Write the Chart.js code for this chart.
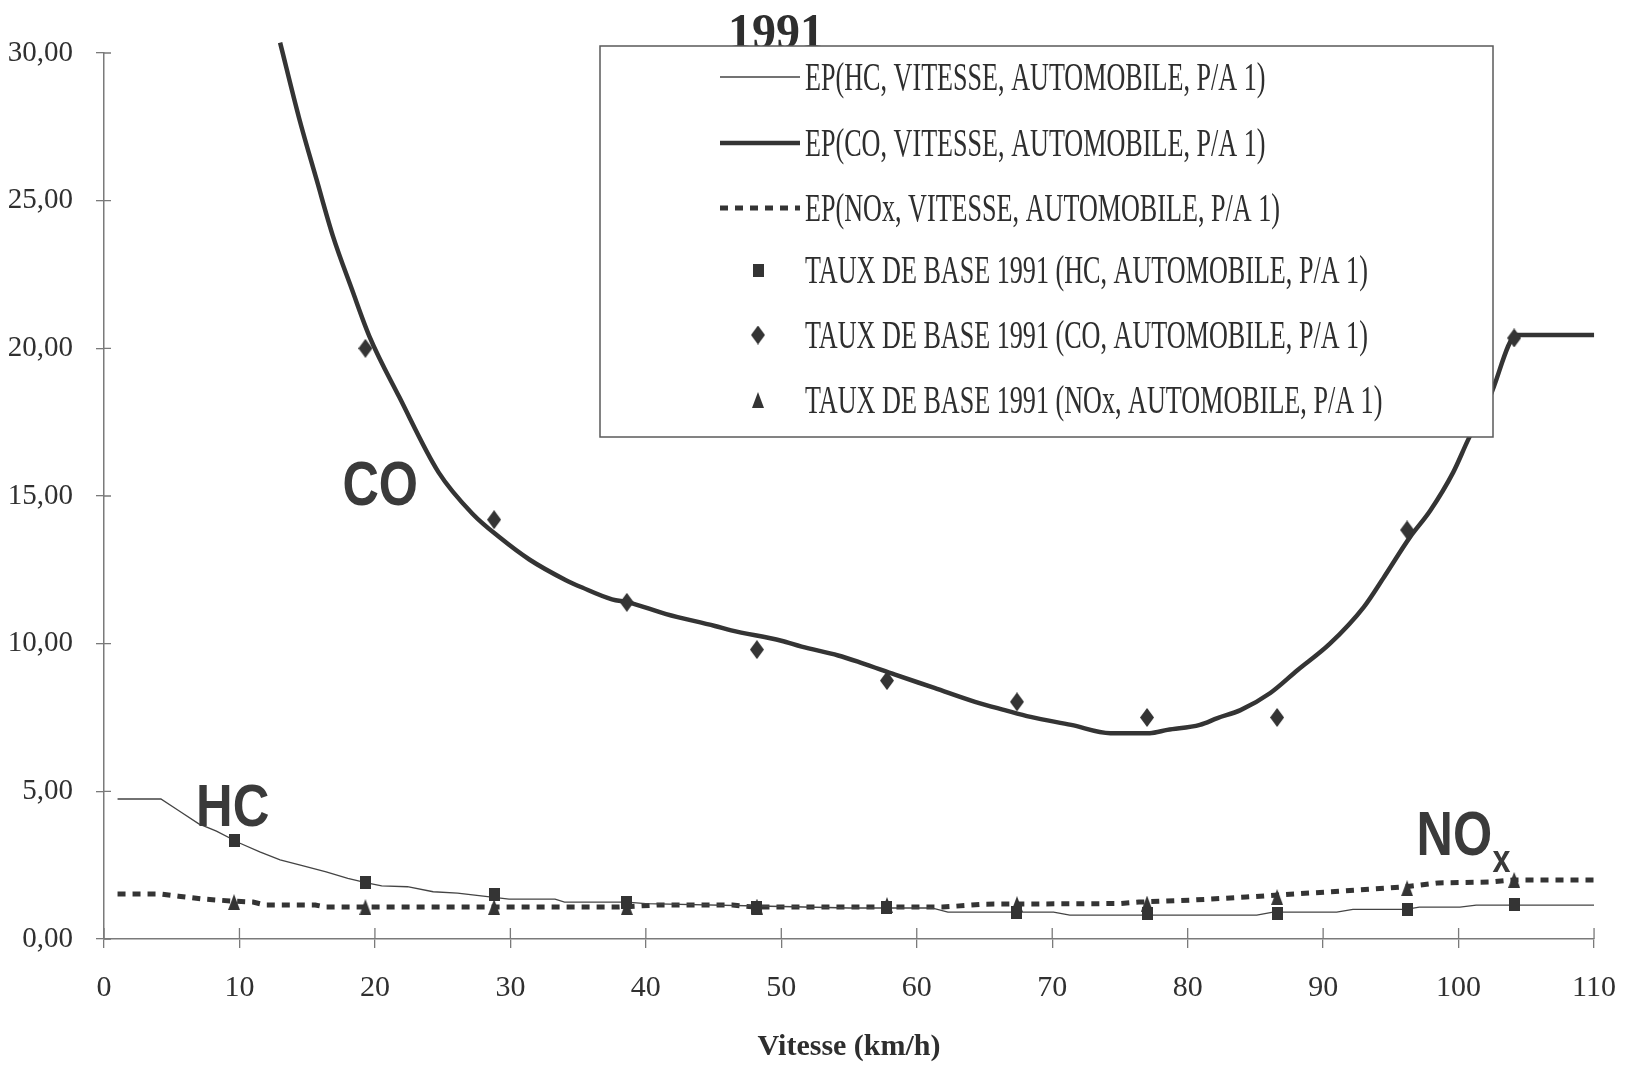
<!DOCTYPE html>
<html>
<head>
<meta charset="utf-8">
<script src="https://cdn.jsdelivr.net/npm/chart.js@4.4.1/dist/chart.umd.min.js"></script>
<style>
  html, body { margin: 0; padding: 0; background: #ffffff; }
  #wrap { width: 1638px; height: 1066px; }
</style>
</head>
<body>
<div id="wrap"><canvas id="c" width="1638" height="1066"></canvas></div>
<script>
// ---------- DATA ----------
const chartTitle = '1991';
const xAxisTitle = 'Vitesse (km/h)';
const xTicks = [0, 10, 20, 30, 40, 50, 60, 70, 80, 90, 100, 110];
const yTicks = [0, 5, 10, 15, 20, 25, 30];
const yTickLabels = ['0,00', '5,00', '10,00', '15,00', '20,00', '25,00', '30,00'];

const seriesLabels = [
  'EP(HC, VITESSE, AUTOMOBILE, P/A 1)',
  'EP(CO, VITESSE, AUTOMOBILE, P/A 1)',
  'EP(NOx, VITESSE, AUTOMOBILE, P/A 1)',
  'TAUX DE BASE 1991 (HC, AUTOMOBILE, P/A 1)',
  'TAUX DE BASE 1991 (CO, AUTOMOBILE, P/A 1)',
  'TAUX DE BASE 1991 (NOx, AUTOMOBILE, P/A 1)'
];

// EP curves (speed km/h -> emission)
const hcCurveX = [1, 4.2, 5.5, 7.0, 8.3, 10.0, 11.5, 13.0, 14.5, 16.4, 18.0, 19.4, 20.5, 22.4, 24.3, 26.1, 28.0, 29.9, 33.3, 34.0, 38.6, 40, 50, 55, 61.1, 62.3, 70.1, 71.3, 85.1, 86.3, 91.0, 92.2, 96.1, 97.1, 100.1, 101.3, 110];
const hcCurveY = [4.74, 4.74, 4.35, 3.9, 3.65, 3.25, 2.95, 2.68, 2.5, 2.27, 2.05, 1.9, 1.8, 1.77, 1.6, 1.55, 1.45, 1.35, 1.35, 1.25, 1.25, 1.2, 1.1, 1.05, 1.05, 0.91, 0.91, 0.81, 0.81, 0.91, 0.91, 1.0, 1.0, 1.08, 1.08, 1.15, 1.15];

const coCurveX = [13.0, 14.4, 15.7, 16.9, 18.3, 19.6, 21.8, 24.7, 27.2, 29.2, 31.4, 34.1, 35.3, 37.5, 38.7, 41.5, 45.1, 46.3, 50.0, 51.5, 54.2, 55.9, 58.4, 61.3, 64.3, 66.5, 68.4, 71.4, 74.3, 77.2, 78.5, 80.9, 82.2, 83.9, 86.1, 88.1, 90.5, 93.0, 94.5, 96.4, 97.9, 99.6, 100.7, 102.3, 104.3, 110];
const coCurveY = [30.35, 27.8, 25.7, 23.8, 22.0, 20.4, 18.35, 15.8, 14.4, 13.6, 12.85, 12.15, 11.9, 11.5, 11.4, 11.0, 10.6, 10.45, 10.1, 9.9, 9.6, 9.35, 8.95, 8.5, 8.03, 7.75, 7.52, 7.25, 6.97, 6.97, 7.08, 7.25, 7.48, 7.75, 8.33, 9.1, 10.0, 11.24, 12.26, 13.6, 14.5, 15.8, 16.9, 18.35, 20.45, 20.45];

const noxCurveX = [1, 4.3, 5.5, 7.4, 9.6, 11.0, 11.9, 15.6, 16.4, 38.0, 40.8, 46.4, 48.0, 61.9, 65.0, 75.0, 76.4, 80.4, 84.3, 86.7, 90.6, 94.5, 96.1, 98.5, 102.4, 104.0, 110];
const noxCurveY = [1.52, 1.52, 1.45, 1.35, 1.28, 1.25, 1.15, 1.15, 1.08, 1.08, 1.15, 1.15, 1.08, 1.08, 1.18, 1.2, 1.25, 1.32, 1.42, 1.49, 1.6, 1.72, 1.77, 1.9, 1.93, 2.0, 2.0];

// 1991 base rates (markers)
const markerSpeeds = [9.6, 19.3, 28.8, 38.6, 48.2, 57.8, 67.4, 77.0, 86.6, 96.2, 104.1];
const hcRates  = [3.35, 1.9, 1.49, 1.25, 1.08, 1.05, 0.91, 0.88, 0.88, 1.0, 1.18];
const coRates  = [null, 20.0, 14.2, 11.4, 9.8, 8.75, 8.03, 7.5, 7.5, 13.85, 20.35];
const noxRates = [1.25, 1.08, 1.08, 1.08, 1.1, 1.15, 1.18, 1.2, 1.42, 1.72, 2.0];

// curve name annotations
const curveNames = ['CO', 'HC', 'NO'];

// ---------- STYLE / BUILD ----------
const INK = '#343434';
const AXIS = '#7a7a7a';
const SERIF = "'Liberation Serif', 'Times New Roman', serif";
const SANS = "'Liberation Sans', Arial, sans-serif";

function makeMarker(shape, w, h) {
  const c = document.createElement('canvas');
  c.width = w; c.height = h;
  const g = c.getContext('2d');
  g.fillStyle = INK;
  g.beginPath();
  if (shape === 'square') {
    g.rect(0, 0, w, h);
  } else if (shape === 'diamond') {
    g.moveTo(w / 2, 0); g.lineTo(w, h / 2); g.lineTo(w / 2, h); g.lineTo(0, h / 2); g.closePath();
  } else {
    g.moveTo(w / 2, 0); g.lineTo(w, h); g.lineTo(0, h); g.closePath();
  }
  g.fill();
  return c;
}
const squareImg = makeMarker('square', 11, 13);
const diamondImg = makeMarker('diamond', 14, 19);
const triangleImg = makeMarker('triangle', 12, 16);

const pts = (xs, ys) => xs.map((x, i) => ({ x: x, y: ys[i] }));

const datasets = [
  { label: seriesLabels[0], data: pts(hcCurveX, hcCurveY), borderColor: '#444', borderWidth: 1.3, pointRadius: 0, tension: 0, order: 3 },
  { label: seriesLabels[1], data: pts(coCurveX, coCurveY), borderColor: INK, borderWidth: 4.5, pointRadius: 0, cubicInterpolationMode: 'monotone', clip: false, order: 2, borderJoinStyle: 'round', borderCapStyle: 'butt' },
  { label: seriesLabels[2], data: pts(noxCurveX, noxCurveY), borderColor: INK, borderWidth: 5, borderDash: [8, 7], pointRadius: 0, tension: 0, order: 4 },
  { label: seriesLabels[3], data: pts(markerSpeeds, hcRates), showLine: false, pointStyle: squareImg, pointRadius: 7, order: 1 },
  { label: seriesLabels[4], data: pts(markerSpeeds, coRates), showLine: false, pointStyle: diamondImg, pointRadius: 8, order: 1 },
  { label: seriesLabels[5], data: pts(markerSpeeds, noxRates), showLine: false, pointStyle: triangleImg, pointRadius: 8, order: 1 }
];

function drawSqueezed(ctx, text, x, y, font, sx, color, align) {
  ctx.save();
  ctx.font = font;
  ctx.fillStyle = color || INK;
  ctx.textBaseline = 'alphabetic';
  ctx.textAlign = align || 'left';
  ctx.translate(x, y);
  ctx.scale(sx, 1);
  ctx.fillText(text, 0, 0);
  ctx.restore();
}

// inner halves of the tick marks (ticks cross the axes)
const innerTicks = {
  id: 'innerTicks',
  beforeDatasetsDraw(chart) {
    const { ctx, chartArea, scales } = chart;
    ctx.save();
    ctx.strokeStyle = AXIS;
    ctx.lineWidth = 1.3;
    ctx.beginPath();
    scales.y.ticks.forEach(t => {
      const py = scales.y.getPixelForValue(t.value);
      ctx.moveTo(chartArea.left, py); ctx.lineTo(chartArea.left + 7, py);
    });
    scales.x.ticks.forEach(t => {
      const px = scales.x.getPixelForValue(t.value);
      ctx.moveTo(px, chartArea.bottom); ctx.lineTo(px, chartArea.bottom - 11);
    });
    ctx.stroke();
    ctx.restore();
  }
};

// title, curve names, framed legend
const decorations = {
  id: 'decorations',
  afterDraw(chart) {
    const { ctx, chartArea, scales } = chart;
    const X = v => scales.x.getPixelForValue(v);
    const Y = v => scales.y.getPixelForValue(v);

    // curve names (anchored in data units: left edge / baseline)
    drawSqueezed(ctx, curveNames[0], X(17.6), Y(14.7), 'bold 63px ' + SANS, 0.8, '#3a3a3a');
    drawSqueezed(ctx, curveNames[1], X(6.8), Y(3.83), 'bold 59px ' + SANS, 0.86, '#3a3a3a');
    drawSqueezed(ctx, curveNames[2], X(96.9), Y(2.84), 'bold 63px ' + SANS, 0.8, '#3a3a3a');
    drawSqueezed(ctx, 'x', X(102.5), Y(2.27), 'bold 38px ' + SANS, 0.85, '#3a3a3a');

    // title
    drawSqueezed(ctx, chartTitle, X(49.6), chartArea.top - 5, 'bold 50px ' + SERIF, 0.96, '#2e2e2e', 'center');

    // legend box
    const L = 600, T = 46, R = 1493, B = 437;
    ctx.save();
    ctx.fillStyle = '#ffffff';
    ctx.fillRect(L, T, R - L, B - T);
    ctx.strokeStyle = '#5a5a5a';
    ctx.lineWidth = 1.5;
    ctx.strokeRect(L, T, R - L, B - T);
    ctx.restore();

    const rows = [77, 143, 208, 270, 335, 400];
    chart.data.datasets.forEach((ds, i) => {
      const ry = rows[i];
      ctx.save();
      if (ds.showLine === false) {
        const img = ds.pointStyle;
        ctx.drawImage(img, 758 - img.width / 2, ry - img.height / 2);
      } else {
        ctx.strokeStyle = ds.borderColor;
        ctx.lineWidth = ds.borderWidth;
        ctx.setLineDash(ds.borderDash || []);
        ctx.beginPath();
        ctx.moveTo(720, ry); ctx.lineTo(800, ry);
        ctx.stroke();
      }
      ctx.restore();
      drawSqueezed(ctx, ds.label, 805, ry + 13, '39px ' + SERIF, 0.67, '#2e2e2e');
    });
  }
};

new Chart(document.getElementById('c'), {
  type: 'line',
  data: { datasets: datasets },
  plugins: [innerTicks, decorations],
  options: {
    responsive: false,
    devicePixelRatio: 1,
    animation: false,
    parsing: true,
    layout: { padding: { top: 53, right: 40, left: 0, bottom: 0 } },
    plugins: { legend: { display: false }, title: { display: false }, tooltip: { enabled: false } },
    scales: {
      x: {
        type: 'linear',
        min: xTicks[0], max: xTicks[xTicks.length - 1],
        afterBuildTicks: s => { s.ticks = xTicks.map(v => ({ value: v })); },
        afterFit: s => { s.height = 127; },
        ticks: { color: '#303030', font: { family: SERIF, size: 30 }, padding: 22, maxRotation: 0, autoSkip: false },
        grid: { display: true, drawOnChartArea: false, drawTicks: true, tickLength: 9, color: AXIS, lineWidth: 1.3 },
        border: { display: true, color: AXIS, width: 1.5 },
        title: { display: true, text: xAxisTitle, color: '#2e2e2e', font: { family: SERIF, size: 30, weight: 'bold', lineHeight: 1 }, padding: { top: 0, bottom: 4 } }
      },
      y: {
        type: 'linear',
        min: yTicks[0], max: yTicks[yTicks.length - 1],
        afterBuildTicks: s => { s.ticks = yTicks.map(v => ({ value: v })); },
        afterFit: s => { s.width = 104; },
        ticks: {
          color: '#303030', font: { family: SERIF, size: 29 }, padding: 23,
          callback: v => yTickLabels[yTicks.indexOf(v)]
        },
        grid: { display: true, drawOnChartArea: false, drawTicks: true, tickLength: 8, color: AXIS, lineWidth: 1.3 },
        border: { display: true, color: AXIS, width: 1.5 }
      }
    }
  }
});
</script>
</body>
</html>
